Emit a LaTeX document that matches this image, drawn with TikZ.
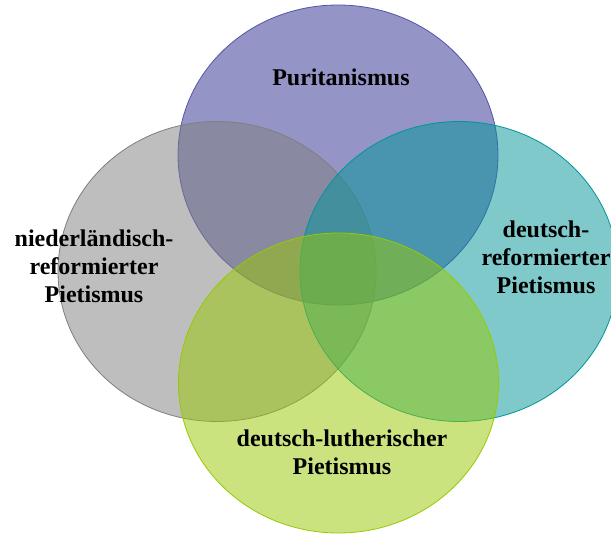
\documentclass[tikz,border=0pt]{standalone}
\usepackage{fontspec}
\setmainfont{Liberation Serif}
\definecolor{cPur}{RGB}{43,43,145}
\definecolor{cGra}{RGB}{127,127,127}
\definecolor{cTea}{RGB}{0,149,153}
\definecolor{cGre}{RGB}{151,201,0}
\begin{document}
\begin{tikzpicture}[x=1pt,y=-1pt,
  venn/.style={fill opacity=0.5, line width=0.8pt},
  lbl/.style={font=\fontsize{24}{28}\selectfont\bfseries, align=center, text=black, inner sep=0pt}]
\useasboundingbox (0,0) rectangle (611,536);
\clip (0,0) rectangle (611,536);
\fill[white] (0,0) rectangle (611,536);
\draw[venn, fill=cPur, draw=cPur!80] (338,155) ellipse [x radius=160, y radius=150];
\draw[venn, fill=cGra, draw=cGra] (217,271.5) ellipse [x radius=159, y radius=150];
\draw[venn, fill=cTea, draw=cTea] (459,271.5) ellipse [x radius=159, y radius=150];
\draw[venn, fill=cGre, draw=cGre] (338.5,383) ellipse [x radius=160, y radius=150];
\node[lbl] (pur) at (341,77) {Puritanismus};
\node[lbl] (nrp) at (94,266) {niederländisch-\\reformierter\\Pietismus};
\node[lbl] (drp) at (546,257) {deutsch-\\reformierter\\Pietismus};
\node[lbl] (dlp) at (342,452) {deutsch-lutherischer\\Pietismus};
\end{tikzpicture}
\end{document}
